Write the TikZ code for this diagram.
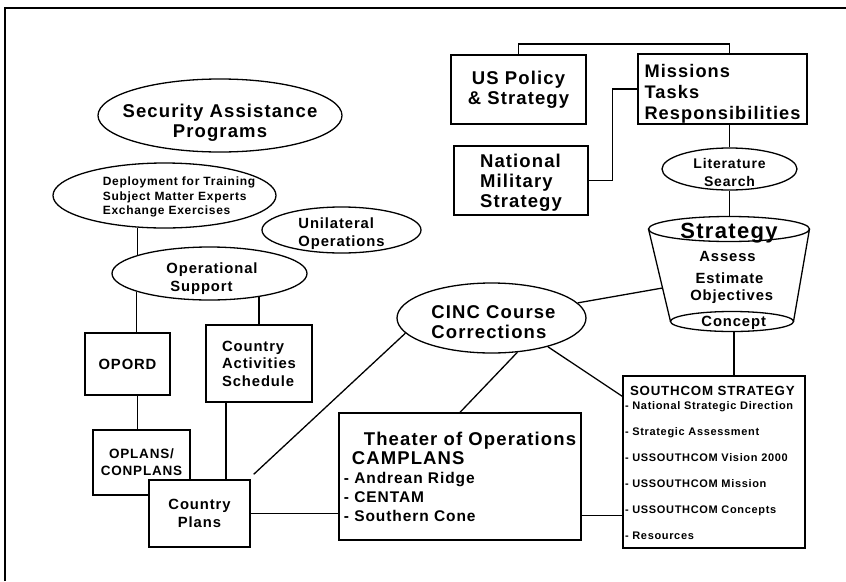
\documentclass[tikz,border=0pt]{standalone}
\usepackage{fontspec}
\setmainfont{Liberation Sans}[LetterSpace=6]
\usetikzlibrary{shapes,positioning,backgrounds}

\begin{document}
\begin{tikzpicture}[x=1pt, y=-1pt, line width=1.3pt,
    box/.style={draw, fill=white, inner sep=0pt},
    oval/.style={draw, ellipse, fill=white, inner sep=0pt},
    every label/.style={align=center, inner sep=0pt},
    fhuge/.style={font=\bfseries\fontsize{22}{24}\selectfont},
    fbig/.style={font=\bfseries\fontsize{18.5}{20}\selectfont},
    fmid/.style={font=\bfseries\fontsize{14.8}{17.5}\selectfont},
    fsmall/.style={font=\bfseries\fontsize{12}{14.2}\selectfont}]
    \useasboundingbox (0,0) rectangle (846,581);
    \draw (5,581) -- (5,8) -- (846,8);

    % left side
    \node[oval, minimum width=244pt, minimum height=73pt,
        label={[fbig, yshift=-7.5pt]center:Security Assistance\\Programs}] (sec) at (220,115.5) {};
    \node[oval, minimum width=223pt, minimum height=65pt,
        label={[fsmall, align=left, xshift=14.5pt, yshift=-1.5pt]center:Deployment for Training\\Subject Matter Experts\\Exchange Exercises}] (dep) at (164.5,195.5) {};
    \node[oval, minimum width=159pt, minimum height=46pt,
        label={[fmid, align=left, yshift=-3.5pt]center:Unilateral\\Operations}] (uni) at (341.5,230) {};
    \node[oval, minimum width=195pt, minimum height=53pt,
        label={[fmid, align=left, xshift=2.5pt, yshift=-5pt]center:Operational\\\hspace*{4pt}Support}] (ops) at (209.5,273.5) {};
    \node[box, fmid, minimum width=85pt, minimum height=62pt] (opord) at (127.5,364) {OPORD};
    \node[box, fmid, minimum width=106pt, minimum height=77pt, align=left] (cas) at (259,363.5) {Country\\Activities\\Schedule};
    \node[box, minimum width=97pt, minimum height=65pt, align=center,
        font=\bfseries\fontsize{13.5}{17}\selectfont] (oplans) at (141.5,462.5) {OPLANS/\\CONPLANS};
    \node[box, fmid, minimum width=101pt, minimum height=67pt, align=center] (cplans) at (199.5,513.5) {Country\\Plans};

    % top right
    \node[box, fbig, minimum width=135pt, minimum height=69pt, align=center] (uspol) at (518.5,89.5) {US Policy\\\& Strategy};
    \node[box, minimum width=169pt, minimum height=70pt,
        label={[font=\bfseries\fontsize{18.2}{21}\selectfont, align=left, yshift=-4.5pt]center:Missions\\Tasks\\Responsibilities}] (miss) at (722.5,89) {};
    \node[box, minimum width=134pt, minimum height=69pt,
        label={[fbig, align=left, yshift=-2.5pt]center:National\\Military\\Strategy}] (nms) at (521,180.5) {};
    \node[oval, minimum width=135pt, minimum height=42pt,
        label={[font=\bfseries\fontsize{14}{18}\selectfont, yshift=-3.5pt]center:Literature\\Search}] (lit) at (729.5,169) {};

    % strategy cup
    \draw (729,229) ellipse [x radius=80.5, y radius=12.5];
    \draw (732,321.5) ellipse [x radius=61.5, y radius=10];
    \draw (648.5,229) -- (670.5,321.5);
    \draw (809.5,229) -- (793.5,321.5);
    \coordinate (cupT) at (729.5,217);
    \coordinate (cupL) at (662.5,288);
    \coordinate (cupB) at (734,331.5);
    \node[fhuge, anchor=base] (strat) at (729,238.3) {Strategy};
    \node[fmid, anchor=base] (assess) at (727.5,261.7) {Assess};
    \node[fmid, anchor=base] (estim) at (729.5,283.3) {Estimate};
    \node[fmid, anchor=base] (obj) at (731.7,300) {Objectives};
    \node[fmid, anchor=base] (concept) at (733.7,326.7) {Concept};

    % middle and bottom
    \node[oval, minimum width=189pt, minimum height=70pt,
        label={[fbig, align=left, xshift=2pt, yshift=-4pt]center:CINC Course\\Corrections}] (cinc) at (491.5,318) {};
    \node[box, minimum width=242pt, minimum height=127pt, align=left,
        font=\bfseries\fontsize{15.5}{19}\selectfont] (theater) at (460,476.5)
        {\hspace*{20pt}{\fontsize{18.5}{19}\selectfont Theater of Operations}\\
         \hspace*{8pt}{\fontsize{18.5}{19}\selectfont CAMPLANS}\\
         - Andrean Ridge\\ - CENTAM\\ - Southern Cone};
    \node[box, minimum width=182pt, minimum height=172pt] (south) at (714,462) {};
    \node[anchor=north west, inner sep=0pt, align=left,
        font=\bfseries\fontsize{11}{26}\selectfont] (southtxt) at ([xshift=2pt,yshift=-10pt]south.north west)
        {\hspace*{5pt}{\fontsize{13.3}{14}\selectfont SOUTHCOM STRATEGY}\\[-12pt]
         - National Strategic Direction\\ - Strategic Assessment\\ - USSOUTHCOM Vision 2000\\
         - USSOUTHCOM Mission\\ - USSOUTHCOM Concepts\\ - Resources};

    % connectors
    \draw (uspol.north) -- (uspol.north |- 0,44) -| ([xshift=7pt]miss.north);
    \draw (nms.east) -- ++(24,0) |- (miss.west);
    \draw ([xshift=7pt]miss.south) -- (lit);
    \draw (lit) -- (cupT);
    \draw (cinc) -- (cupL);
    \draw (cupB) -- (cupB |- south.north);
    \draw (cinc.333) -- ([yshift=-21pt]south.north west);
    \draw (cinc.307) -- (theater.north);
    \draw (cinc.190) -- ([xshift=3pt,yshift=5pt]cplans.north east);
    \draw (cplans.east) -- (cplans.east -| theater.west);
    \draw ([yshift=-39pt]theater.east) -- ([yshift=-39pt]theater.east -| south.west);
    \draw (dep.230) -- (dep.230 |- ops.166);
    \draw (ops.194) -- (ops.194 |- opord.north);
    \draw (ops.336 -| cas.north) -- (cas.north);
    \draw ([xshift=10pt]opord.south) -- ([xshift=10pt]opord.south |- oplans.north);
    \draw ([xshift=-33pt]cas.south) -- ([xshift=-33pt]cas.south |- cplans.north);
\end{tikzpicture}
\end{document}
